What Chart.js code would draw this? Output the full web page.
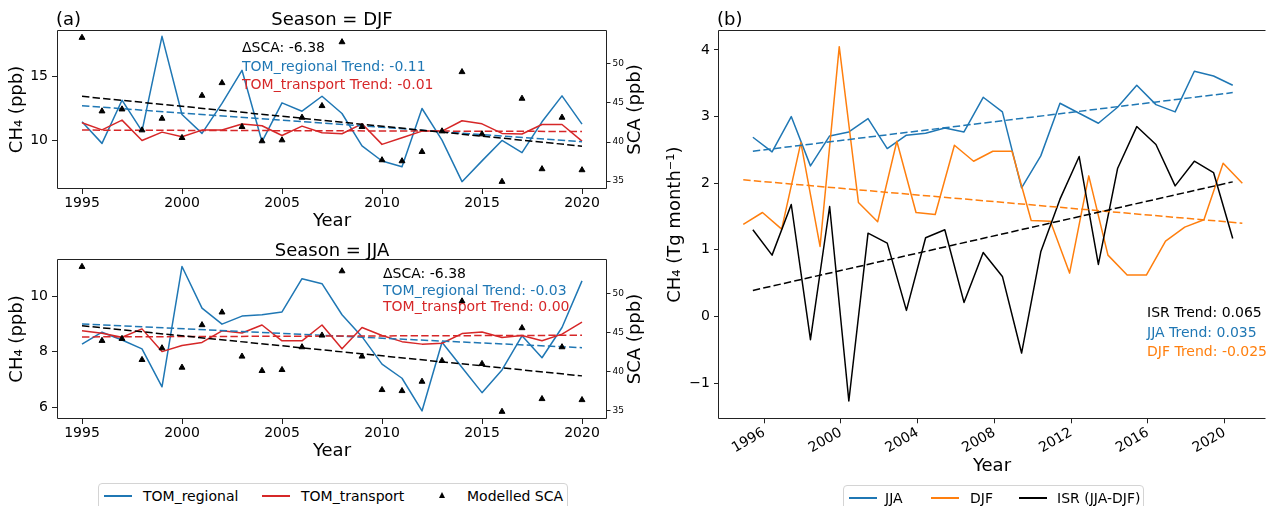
<!DOCTYPE html>
<html>
<head>
<meta charset="utf-8">
<title>CH4 seasonal trends</title>
<script src="https://cdn.jsdelivr.net/npm/chart.js@4.4.1/dist/chart.umd.min.js"></script>
<style>
  html, body { margin: 0; padding: 0; background: #fff; }
  #page { position: relative; width: 1266px; height: 506px; overflow: hidden; font-family: 'DejaVu Sans', sans-serif; }
  #page canvas { position: absolute; left: 0; top: 0; }
  .legend { position: absolute; height: 40px; border: 1px solid #d4d4d4; border-radius: 4px; background: #fff; font-size: 14px; color: #000; }
  .legend .sw { position: absolute; top: 11px; width: 28px; height: 0; border-top: 2px solid; }
  .legend .lab { position: absolute; top: 3px; line-height: 18px; white-space: nowrap; }
  .legend .tri { position: absolute; top: 8px; width: 0; height: 0; border-left: 3.5px solid transparent; border-right: 3.5px solid transparent; border-bottom: 6px solid #000; }
</style>
</head>
<body>
<div id="page">
  <canvas id="djfChart" width="1266" height="506"></canvas>
  <canvas id="jjaChart" width="1266" height="506"></canvas>
  <canvas id="isrChart" width="1266" height="506"></canvas>

  <div class="legend" style="left:98px; top:483px; width:468px;">
    <div class="sw" style="left:5px; border-color:#1f77b4;"></div><div class="lab" style="left:44px;">TOM_regional</div>
    <div class="sw" style="left:163px; border-color:#d62728;"></div><div class="lab" style="left:202px;">TOM_transport</div>
    <div class="tri" style="left:340px;"></div><div class="lab" style="left:368px;">Modelled SCA</div>
  </div>
  <div class="legend" style="left:843px; top:485px; width:299px;">
    <div class="sw" style="left:5px; border-color:#1f77b4;"></div><div class="lab" style="left:41px;">JJA</div>
    <div class="sw" style="left:87px; border-color:#ff7f0e;"></div><div class="lab" style="left:126px;">DJF</div>
    <div class="sw" style="left:175px; border-color:#000;"></div><div class="lab" style="left:213px;">ISR (JJA-DJF)</div>
  </div>
</div>

<script>
// ---- data ----
const years = [1995, 1996, 1997, 1998, 1999, 2000, 2001, 2002, 2003, 2004, 2005, 2006, 2007,
               2008, 2009, 2010, 2011, 2012, 2013, 2014, 2015, 2016, 2017, 2018, 2019, 2020];
const djfYears = [1995, 1996, 1997, 1998, 1999, 2000, 2001, 2002, 2003, 2004, 2005, 2006, 2007, 2008,
                  2009, 2010, 2011, 2012, 2013, 2014, 2015, 2016, 2017, 2018, 2019, 2020, 2021];
const trendYears = [1995, 2020];

const djfRegional = [11.46, 9.77, 13.15, 10.73, 18.15, 12.03, 10.55, 12.9, 15.49, 9.9, 12.94, 12.29, 13.46,
                     12.11, 9.58, 8.39, 7.94, 12.5, 10.03, 6.77, 8.4, 10.0, 9.04, 11.46, 13.49, 11.28];
const djfTransport = [11.38, 10.83, 11.59, 10.0, 10.65, 10.29, 10.81, 10.81, 11.28, 11.15, 10.39, 11.12, 10.6,
                      10.52, 11.3, 9.69, 10.21, 10.73, 10.73, 11.54, 11.3, 10.55, 10.5, 11.25, 11.25, 9.95];
const jjaRegional = [8.27, 8.70, 8.42, 8.10, 6.73, 11.07, 9.57, 8.99, 9.28, 9.33, 9.43, 10.63, 10.45,
                     9.33, 8.54, 7.55, 7.04, 5.86, 8.34, 7.43, 6.52, 7.34, 8.57, 7.78, 8.87, 10.55];
const jjaTransport = [8.75, 8.66, 8.52, 8.82, 8.0, 8.22, 8.33, 8.75, 8.67, 8.96, 8.39, 8.39, 8.96,
                      8.1, 8.87, 8.58, 8.36, 8.27, 8.3, 8.65, 8.71, 8.51, 8.58, 8.39, 8.63, 9.06];
const modelledSca = [53.37, 43.95, 44.2, 41.52, 43.01, 40.54, 45.95, 47.57, 41.95, 40.12, 40.24, 43.14, 44.63,
                     52.81, 41.95, 37.69, 37.56, 38.75, 41.39, 48.98, 41.01, 34.92, 45.57, 36.54, 43.14, 36.41];

const djfRegionalTrend = [12.71, 9.90];
const djfTransportTrend = [10.81, 10.70];
const jjaRegionalTrend = [9.00, 8.14];
const jjaTransportTrend = [8.53, 8.59];
const scaTrend = [45.85, 39.47];

const jjaEmission = [2.69, 2.47, 3.00, 2.26, 2.71, 2.77, 2.97, 2.52, 2.72, 2.75, 2.83, 2.77, 3.29,
                     3.07, 1.93, 2.41, 3.20, 3.05, 2.90, 3.14, 3.47, 3.18, 3.07, 3.68, 3.61, 3.47];
const djfEmission = [1.38, 1.56, 1.31, 2.61, 1.05, 4.05, 1.71, 1.42, 2.63, 1.56, 1.53, 2.57, 2.33, 2.48,
                     2.48, 1.44, 1.43, 0.65, 2.11, 0.92, 0.62, 0.62, 1.13, 1.34, 1.45, 2.30, 2.00];
const isrEmission = [1.30, 0.92, 1.68, -0.35, 1.65, -1.27, 1.25, 1.10, 0.09, 1.18, 1.30, 0.21, 0.96,
                     0.60, -0.55, 0.97, 1.76, 2.40, 0.78, 2.22, 2.85, 2.58, 1.96, 2.33, 2.16, 1.17];
const jjaEmissionTrend = [2.48, 3.36];
const djfEmissionTrend = [2.05, 1.40];
const isrEmissionTrend = [0.39, 2.02];

const seasonTicks = [1995, 2000, 2005, 2010, 2015, 2020];
const dateTicks = [1996, 2000, 2004, 2008, 2012, 2016, 2020];
const djfTicks = [10, 15];
const jjaTicks = [6, 8, 10];
const scaTicks = [35, 40, 45, 50];
const emissionTicks = [-1, 0, 1, 2, 3, 4];

// JJA values are dated June, DJF values December of the previous year
const jjaDates = years.map(y => y + 5 / 12);
const djfDates = djfYears.map(y => y - 1 / 12);

// ---- styling helpers ----
Chart.defaults.font.family = "'DejaVu Sans', sans-serif";
Chart.defaults.font.size = 14;
Chart.defaults.color = '#000';

const BLUE = '#1f77b4', RED = '#d62728', ORANGE = '#ff7f0e', BLACK = '#000000';
const DASH = [7.4, 3.2];

const xy = (xs, ys) => ys.map((y, i) => ({ x: xs[i], y: y }));

function solid(xs, ys, color, axis) {
    return { data: xy(xs, ys), borderColor: color, borderWidth: 1.5, pointRadius: 0,
             borderJoinStyle: 'round', tension: 0, yAxisID: axis };
}
function dashed(xs, ys, color, axis) {
    return Object.assign(solid(xs, ys, color, axis), { borderDash: DASH, borderJoinStyle: 'miter' });
}
function markers(xs, ys, axis) {
    return { data: xy(xs, ys), showLine: false, pointStyle: 'triangle', pointRadius: 3.4,
             backgroundColor: BLACK, borderColor: BLACK, borderWidth: 1, yAxisID: axis };
}

const fixWidth = w => axis => { axis.width = w; };
const fixHeight = h => axis => { axis.height = h; };
const useTicks = list => axis => { axis.ticks = list.map(value => ({ value: value })); };
const minus = v => (v < 0 ? '\u2212' + Math.abs(v) : String(v));
const tickMarks = len => ({ display: true, drawOnChartArea: false, drawTicks: true,
                            tickLength: len, color: '#222', lineWidth: 1 });

function frame(sides) {
    return {
        id: 'frame',
        afterDatasetsDraw(chart) {
            const { ctx, chartArea: a } = chart;
            const l = Math.round(a.left) + 0.5, r = Math.round(a.right) - 0.5;
            const t = Math.round(a.top) + 0.5, b = Math.round(a.bottom) - 0.5;
            ctx.save();
            ctx.strokeStyle = '#222';
            ctx.lineWidth = 1;
            ctx.beginPath();
            if (sides.includes('l')) { ctx.moveTo(l, t); ctx.lineTo(l, b); }
            if (sides.includes('r')) { ctx.moveTo(r, t); ctx.lineTo(r, b); }
            if (sides.includes('t')) { ctx.moveTo(l, t); ctx.lineTo(r, t); }
            if (sides.includes('b')) { ctx.moveTo(l, b); ctx.lineTo(r, b); }
            ctx.stroke();
            ctx.restore();
        }
    };
}

function notes(items) {
    return {
        id: 'notes',
        afterDraw(chart) {
            const ctx = chart.ctx;
            items.forEach(n => {
                ctx.save();
                ctx.font = (n.size || 14) + "px 'DejaVu Sans', sans-serif";
                ctx.fillStyle = n.color || BLACK;
                ctx.textAlign = n.align || 'left';
                ctx.textBaseline = n.base || 'alphabetic';
                ctx.translate(n.x, n.y);
                if (n.rot) ctx.rotate(n.rot);
                ctx.fillText(n.text, 0, 0);
                ctx.restore();
            });
        }
    };
}

function seasonScales(yMin, yMax, yTicks) {
    return {
        x: {
            type: 'linear', min: 1993.75, max: 2021.25,
            afterBuildTicks: useTicks(seasonTicks), afterFit: fixHeight(43),
            ticks: { callback: v => String(v), padding: 1, maxRotation: 0, autoSkip: false },
            grid: tickMarks(5), border: { display: false },
            title: { display: true, text: 'Year', font: { size: 18 }, padding: { top: 0, bottom: 0 } }
        },
        y: {
            position: 'left', min: yMin, max: yMax,
            afterBuildTicks: useTicks(yTicks), afterFit: fixWidth(57),
            ticks: { padding: 4, autoSkip: false },
            grid: tickMarks(5), border: { display: false },
            title: { display: true, text: 'CH\u2084 (ppb)', font: { size: 18 }, padding: { top: 7, bottom: 0 } }
        },
        y2: {
            position: 'right', min: 33.98, max: 54.35,
            afterBuildTicks: useTicks(scaTicks), afterFit: fixWidth(53),
            ticks: { padding: 2, font: { size: 9 }, autoSkip: false },
            grid: tickMarks(3.5), border: { display: false }
        }
    };
}

const common = {
    responsive: false,
    animation: false,
    events: [],
    plugins: { legend: { display: false }, tooltip: { enabled: false } }
};

// ---- (a) DJF ----
new Chart(document.getElementById('djfChart'), {
    type: 'line',
    data: {
        datasets: [
            markers(years, modelledSca, 'y2'),
            dashed(trendYears, scaTrend, BLACK, 'y2'),
            dashed(trendYears, djfTransportTrend, RED, 'y'),
            dashed(trendYears, djfRegionalTrend, BLUE, 'y'),
            solid(years, djfTransport, RED, 'y'),
            solid(years, djfRegional, BLUE, 'y')
        ]
    },
    options: Object.assign({}, common, {
        layout: { padding: { left: 0, top: 30, right: 606, bottom: 274 } },
        scales: seasonScales(6.198, 18.646, djfTicks)
    }),
    plugins: [frame('lrtb'), notes([
        { text: '(a)', x: 56, y: 25, size: 18 },
        { text: 'Season = DJF', x: 332, y: 25, size: 18, align: 'center' },
        { text: '\u0394SCA: -6.38', x: 242, y: 52 },
        { text: 'TOM_regional Trend: -0.11', x: 242, y: 70.5, color: BLUE },
        { text: 'TOM_transport Trend: -0.01', x: 242, y: 89, color: RED },
        { text: 'SCA (ppb)', x: 635, y: 109.5, size: 18, align: 'center', base: 'middle', rot: -Math.PI / 2 }
    ])]
});

// ---- (a) JJA ----
new Chart(document.getElementById('jjaChart'), {
    type: 'line',
    data: {
        datasets: [
            markers(years, modelledSca, 'y2'),
            dashed(trendYears, scaTrend, BLACK, 'y2'),
            dashed(trendYears, jjaTransportTrend, RED, 'y'),
            dashed(trendYears, jjaRegionalTrend, BLUE, 'y'),
            solid(years, jjaTransport, RED, 'y'),
            solid(years, jjaRegional, BLUE, 'y')
        ]
    },
    options: Object.assign({}, common, {
        layout: { padding: { left: 0, top: 259, right: 606, bottom: 44 } },
        scales: seasonScales(5.57, 11.34, jjaTicks)
    }),
    plugins: [frame('lrtb'), notes([
        { text: 'Season = JJA', x: 332, y: 256, size: 18, align: 'center' },
        { text: '\u0394SCA: -6.38', x: 383, y: 277.5 },
        { text: 'TOM_regional Trend: -0.03', x: 383, y: 294.5, color: BLUE },
        { text: 'TOM_transport Trend: 0.00', x: 383, y: 311, color: RED },
        { text: 'SCA (ppb)', x: 635, y: 339, size: 18, align: 'center', base: 'middle', rot: -Math.PI / 2 }
    ])]
});

// ---- (b) ISR ----
new Chart(document.getElementById('isrChart'), {
    type: 'line',
    data: {
        datasets: [
            dashed([jjaDates[0], jjaDates[25]], isrEmissionTrend, BLACK, 'y'),
            dashed([djfDates[0], djfDates[26]], djfEmissionTrend, ORANGE, 'y'),
            dashed([jjaDates[0], jjaDates[25]], jjaEmissionTrend, BLUE, 'y'),
            solid(jjaDates, isrEmission, BLACK, 'y'),
            solid(djfDates, djfEmission, ORANGE, 'y'),
            solid(jjaDates, jjaEmission, BLUE, 'y')
        ]
    },
    options: Object.assign({}, common, {
        layout: { padding: { left: 660, top: 30, right: 0, bottom: 26.7 } },
        scales: {
            x: {
                type: 'linear', min: 1993.6, max: 2022.15,
                afterBuildTicks: useTicks(dateTicks), afterFit: fixHeight(60),
                ticks: { callback: v => String(v), padding: 1, minRotation: 30, maxRotation: 30, autoSkip: false },
                grid: tickMarks(4), border: { display: false },
                title: { display: true, text: 'Year', font: { size: 18 }, padding: { top: 0, bottom: 1.8 } }
            },
            y: {
                position: 'left', min: -1.545, max: 4.30,
                afterBuildTicks: useTicks(emissionTicks), afterFit: fixWidth(58),
                ticks: { padding: 4, callback: minus, autoSkip: false },
                grid: tickMarks(4), border: { display: false },
                title: { display: true, text: 'CH\u2084 (Tg month\u207B\u00B9)', font: { size: 18 }, padding: { top: 4.7, bottom: 0 } }
            }
        }
    }),
    plugins: [frame('ltb'), notes([
        { text: '(b)', x: 717, y: 25, size: 18 },
        { text: 'ISR Trend: 0.065', x: 1147, y: 316.7 },
        { text: 'JJA Trend: 0.035', x: 1147, y: 336.7, color: BLUE },
        { text: 'DJF Trend: -0.025', x: 1147, y: 356, color: ORANGE }
    ])]
});
</script>
</body>
</html>
